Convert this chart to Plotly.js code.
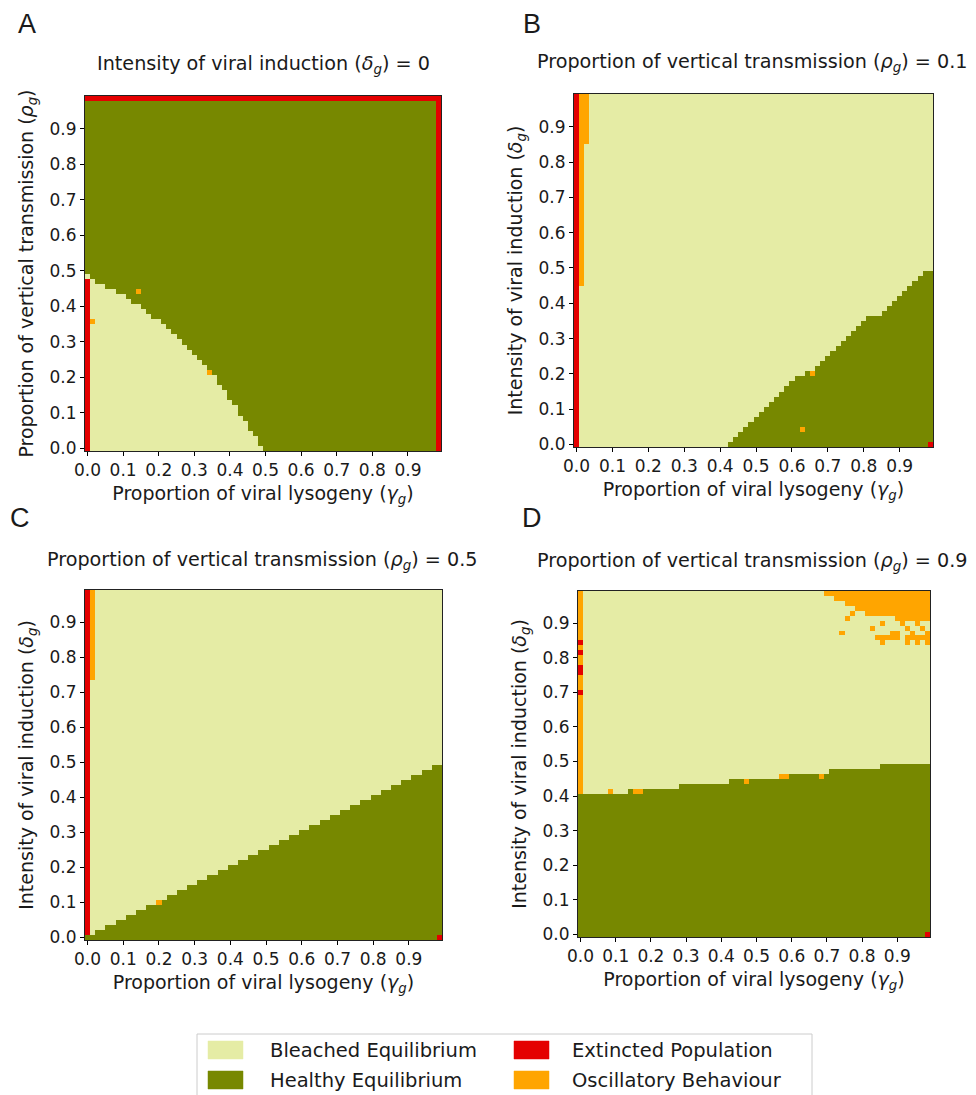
<!DOCTYPE html>
<html>
<head>
<meta charset="utf-8">
<script src="https://cdn.plot.ly/plotly-3.0.1.min.js"></script>
<style>
  html, body { margin: 0; padding: 0; background: #ffffff; }
  #chart { width: 976px; height: 1095px; }
</style>
</head>
<body>
<div id="chart"></div>
<script>
// ---------------- DATA ----------------
// Each panel is a 70 x 70 grid of parameter cells (cell index k -> value k/70).
const GRID_N = 70;
const categories = ['Bleached Equilibrium', 'Healthy Equilibrium', 'Extincted Population', 'Oscillatory Behaviour'];
const categoryColors = ['#e5eca5', '#778800', '#e40000', '#ffa500'];
const tickValues = [0, 0.1, 0.2, 0.3, 0.4, 0.5, 0.6, 0.7, 0.8, 0.9];
const tickLabels = ['0.0', '0.1', '0.2', '0.3', '0.4', '0.5', '0.6', '0.7', '0.8', '0.9'];

// Panel A (x: gamma, y: rho, delta = 0): number of bleached cells from the bottom in each gamma column
const bleachedHeightA = [35, 34, 33, 33, 32, 32, 31, 31, 30, 29, 29, 28, 27, 26, 26, 25, 24, 23, 22, 21,
                         20, 19, 18, 17, 16, 15, 13, 12, 10, 9, 7, 6, 4, 3, 1, 0, 0, 0, 0, 0,
                         0, 0, 0, 0, 0, 0, 0, 0, 0, 0, 0, 0, 0, 0, 0, 0, 0, 0, 0, 0,
                         0, 0, 0, 0, 0, 0, 0, 0, 0, 0];
// blocks: [colFrom, colTo, rowFrom, rowTo]
const extinctA = [[0, 0, 0, 33], [0, 69, 69, 69], [69, 69, 0, 69]];
const oscillatoryA = [[1, 1, 25, 25], [10, 10, 31, 31], [24, 24, 15, 15]];

// Panel B (x: gamma, y: delta, rho = 0.1): number of healthy cells from the bottom in each gamma column
const healthyHeightB = [0, 0, 0, 0, 0, 0, 0, 0, 0, 0, 0, 0, 0, 0, 0, 0, 0, 0, 0, 0,
                        0, 0, 0, 0, 0, 0, 0, 0, 0, 0, 1, 2, 3, 4, 5, 6, 7, 8, 9, 10,
                        11, 12, 13, 14, 14, 15, 15, 16, 17, 18, 19, 20, 21, 22, 23, 24, 25, 26, 26, 26,
                        27, 28, 29, 30, 31, 32, 33, 34, 35, 35];
const extinctB = [[0, 0, 0, 69], [69, 69, 0, 0]];
const oscillatoryB = [[1, 1, 32, 69], [2, 2, 60, 69], [44, 44, 3, 3], [46, 46, 14, 14]];

// Panel C (rho = 0.5)
const healthyHeightC = [1, 1, 2, 2, 3, 3, 4, 4, 5, 5, 6, 6, 7, 7, 8, 8, 9, 9, 10, 10,
                        11, 11, 12, 12, 13, 13, 14, 14, 15, 15, 16, 16, 17, 17, 18, 18, 19, 19, 20, 20,
                        21, 21, 22, 22, 23, 23, 24, 24, 25, 25, 26, 26, 27, 27, 28, 28, 29, 29, 30, 30,
                        31, 31, 32, 32, 33, 33, 34, 34, 35, 35];
const extinctC = [[0, 0, 1, 69], [69, 69, 0, 0]];
const oscillatoryC = [[1, 1, 52, 69], [14, 14, 7, 7]];

// Panel D (rho = 0.9)
const healthyHeightD = [29, 29, 29, 29, 29, 29, 29, 29, 29, 29, 30, 30, 30, 30, 30, 30, 30, 30, 30, 30,
                        31, 31, 31, 31, 31, 31, 31, 31, 31, 31, 32, 32, 32, 32, 32, 32, 32, 32, 32, 32,
                        33, 33, 33, 33, 33, 33, 33, 33, 33, 33, 34, 34, 34, 34, 34, 34, 34, 34, 34, 34,
                        35, 35, 35, 35, 35, 35, 35, 35, 35, 35];
const extinctD = [[0, 0, 49, 49], [0, 0, 53, 54], [0, 0, 57, 57], [0, 0, 59, 59], [69, 69, 0, 0]];
const oscillatoryD = [[0, 0, 29, 69], [6, 6, 29, 29], [11, 12, 29, 29], [33, 33, 31, 31], [40, 41, 32, 32], [48, 48, 32, 32],
                      [49, 69, 69, 69], [51, 69, 68, 68], [53, 69, 67, 67], [55, 69, 66, 66],
                      [54, 54, 65, 65], [57, 69, 65, 65], [53, 53, 64, 64], [63, 69, 64, 64],
                      [60, 60, 63, 63], [64, 64, 63, 63], [67, 67, 63, 63],
                      [58, 58, 62, 62], [65, 65, 62, 62], [68, 68, 62, 62],
                      [52, 52, 61, 61], [62, 63, 61, 61], [66, 66, 61, 61], [69, 69, 61, 61],
                      [59, 63, 60, 60], [65, 69, 60, 60],
                      [60, 60, 59, 59], [65, 65, 59, 59], [67, 67, 59, 59], [69, 69, 59, 59]];

// ---------------- BUILD GRIDS ----------------
function buildGrid(heights, belowCode, aboveCode, oscBlocks, extBlocks) {
  const z = [];
  for (let r = 0; r < GRID_N; r++) {
    const row = [];
    for (let c = 0; c < GRID_N; c++) row.push(r < heights[c] ? belowCode : aboveCode);
    z.push(row);
  }
  const paint = (blocks, code) => blocks.forEach(([c0, c1, r0, r1]) => {
    for (let r = r0; r <= r1; r++) for (let c = c0; c <= c1; c++) z[r][c] = code;
  });
  paint(oscBlocks, 3);
  paint(extBlocks, 2);
  return z;
}
const zA = buildGrid(bleachedHeightA, 0, 1, oscillatoryA, extinctA);
const zB = buildGrid(healthyHeightB, 1, 0, oscillatoryB, extinctB);
const zC = buildGrid(healthyHeightC, 1, 0, oscillatoryC, extinctC);
const zD = buildGrid(healthyHeightD, 1, 0, oscillatoryD, extinctD);

const colorscale = [];
categoryColors.forEach((col, k) => {
  colorscale.push([k / 4, col]);
  colorscale.push([(k + 1) / 4, col]);
});

function heat(z, xa, ya) {
  return {
    type: 'heatmap', z: z, x0: 0, dx: 1 / GRID_N, y0: 0, dy: 1 / GRID_N,
    zmin: -0.5, zmax: 3.5, colorscale: colorscale, showscale: false,
    xaxis: xa, yaxis: ya, hoverinfo: 'skip'
  };
}

// ---------------- LAYOUT ----------------
const W = 976, H = 1095;
const PX = p => p / W;
const PY = p => 1 - p / H;
const FONT = 'DejaVu Sans, Verdana, sans-serif';
const TXT = '#1a1a1a';
const TITLE_SIZE = 19.2;
const LABEL_SIZE = 19;

function axis(domainPx, isX, titleText) {
  const dom = isX ? [PX(domainPx[0]), PX(domainPx[1])] : [PY(domainPx[1]), PY(domainPx[0])];
  return {
    domain: dom,
    range: [-0.5 / GRID_N, (GRID_N - 0.5) / GRID_N],
    tickvals: tickValues, ticktext: tickLabels,
    ticks: 'outside', ticklen: 4, tickwidth: 1, tickcolor: '#000',
    showline: true, mirror: true, linecolor: '#222', linewidth: 1,
    showgrid: false, zeroline: false, fixedrange: true,
    tickfont: { family: FONT, size: 17, color: TXT },
    title: { text: titleText, font: { family: FONT, size: LABEL_SIZE, color: TXT }, standoff: isX ? 7 : 10 },
    automargin: false
  };
}
const gammaTitle = 'Proportion of viral lysogeny (<i>γ</i><sub><i>g</i></sub>)';
const deltaTitle = 'Intensity of viral induction (<i>δ</i><sub><i>g</i></sub>)';
const rhoTitle = 'Proportion of vertical transmission (<i>ρ</i><sub><i>g</i></sub>)';

const layout = {
  width: W, height: H,
  margin: { l: 0, r: 0, t: 0, b: 0 },
  paper_bgcolor: '#ffffff', plot_bgcolor: '#ffffff',
  showlegend: false,
  xaxis: Object.assign(axis([85, 441], true, gammaTitle), { anchor: 'y' }),
  yaxis: Object.assign(axis([96, 451], false, rhoTitle), { anchor: 'x' }),
  xaxis2: Object.assign(axis([574, 933], true, gammaTitle), { anchor: 'y2' }),
  yaxis2: Object.assign(axis([94, 447], false, deltaTitle), { anchor: 'x2' }),
  xaxis3: Object.assign(axis([85, 442], true, gammaTitle), { anchor: 'y3' }),
  yaxis3: Object.assign(axis([590, 940], false, deltaTitle), { anchor: 'x3' }),
  xaxis4: Object.assign(axis([578, 930], true, gammaTitle), { anchor: 'y4' }),
  yaxis4: Object.assign(axis([591, 937], false, deltaTitle), { anchor: 'x4' }),
  annotations: [],
  shapes: []
};

function addText(text, xpx, ypx, size, family, xanchor) {
  layout.annotations.push({
    text: text, xref: 'paper', yref: 'paper', x: PX(xpx), y: PY(ypx),
    xanchor: xanchor || 'center', yanchor: 'middle', showarrow: false,
    font: { family: family || FONT, size: size, color: TXT }
  });
}
// panel letters
addText('A', 27, 24, 27, 'Liberation Sans, Arial, sans-serif');
addText('B', 532, 24, 27, 'Liberation Sans, Arial, sans-serif');
addText('C', 20, 518, 27, 'Liberation Sans, Arial, sans-serif');
addText('D', 532, 518, 27, 'Liberation Sans, Arial, sans-serif');
// subplot titles
addText('Intensity of viral induction (<i>δ</i><sub><i>g</i></sub>) = 0', 263, 64, TITLE_SIZE);
addText('Proportion of vertical transmission (<i>ρ</i><sub><i>g</i></sub>) = 0.1', 752, 63, TITLE_SIZE);
addText('Proportion of vertical transmission (<i>ρ</i><sub><i>g</i></sub>) = 0.5', 262, 560, TITLE_SIZE);
addText('Proportion of vertical transmission (<i>ρ</i><sub><i>g</i></sub>) = 0.9', 752, 561, TITLE_SIZE);

// legend (drawn manually)
layout.shapes.push({ type: 'rect', xref: 'paper', yref: 'paper', x0: PX(197), x1: PX(812), y0: PY(1110), y1: PY(1034),
  line: { color: '#cccccc', width: 1 }, fillcolor: 'rgba(255,255,255,0.9)' });
const legendSlots = [
  { sx: 208, tx: 268, y: 1050 },
  { sx: 208, tx: 268, y: 1080 },
  { sx: 514, tx: 570, y: 1050 },
  { sx: 514, tx: 570, y: 1080 }
];
categories.forEach((name, k) => {
  const s = legendSlots[k];
  layout.shapes.push({ type: 'rect', xref: 'paper', yref: 'paper',
    x0: PX(s.sx), x1: PX(s.sx + 35), y0: PY(s.y + 9), y1: PY(s.y - 9),
    line: { color: categoryColors[k], width: 0.5 }, fillcolor: categoryColors[k] });
  addText(name, s.tx, s.y, 19.5, FONT, 'left');
});

const data = [
  heat(zA, 'x', 'y'),
  heat(zB, 'x2', 'y2'),
  heat(zC, 'x3', 'y3'),
  heat(zD, 'x4', 'y4')
];

Plotly.newPlot('chart', data, layout, { staticPlot: true, displayModeBar: false });
</script>
</body>
</html>
